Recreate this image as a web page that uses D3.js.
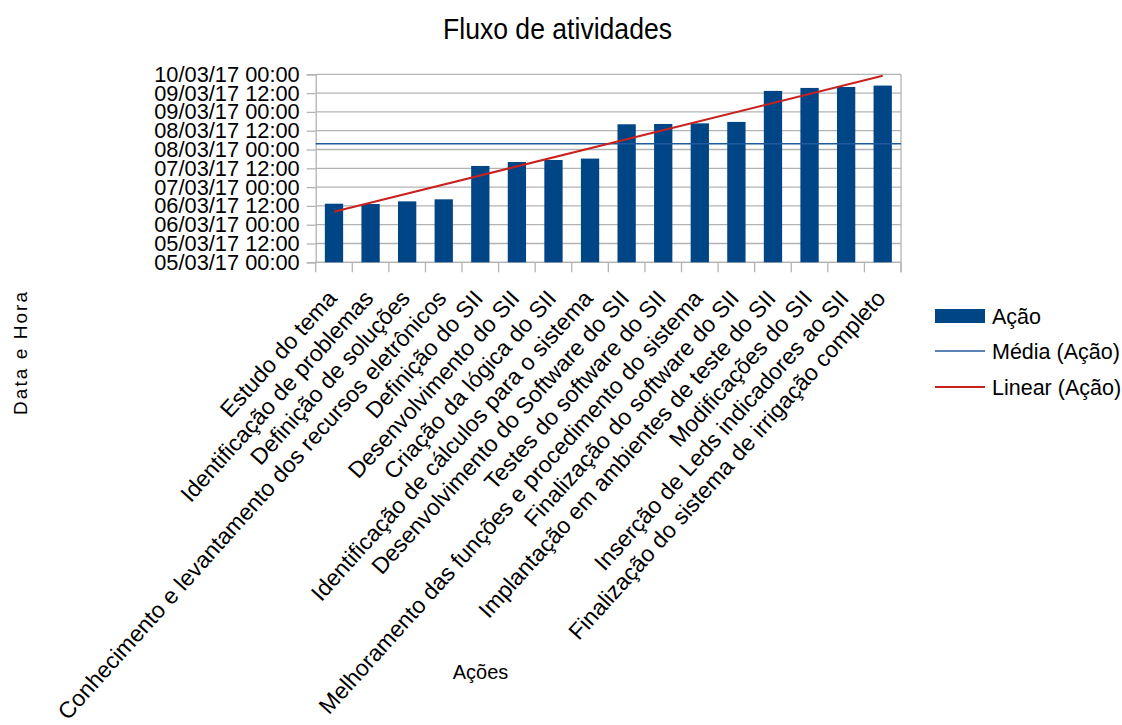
<!DOCTYPE html>
<html>
<head>
<meta charset="utf-8">
<script src="https://cdn.jsdelivr.net/npm/d3@7"></script>
<style>
  html, body { margin: 0; padding: 0; background: #fff; }
  svg { display: block; font-family: "Liberation Sans", Arial, sans-serif; }
</style>
</head>
<body>
<svg id="chart" width="1122" height="725"></svg>
<script>
// Activities (x categories)
const categories = [
  "Estudo do tema",
  "Identificação de problemas",
  "Definição de soluções",
  "Conhecimento e levantamento dos recursos eletrônicos",
  "Definição do SII",
  "Desenvolvimento do SII",
  "Criação da lógica do SII",
  "Identificação de cálculos para o sistema",
  "Desenvolvimento do Software do SII",
  "Testes do software do SII",
  "Melhoramento das funções e procedimento do sistema",
  "Finalização do software do SII",
  "Implantação em ambientes de teste do SII",
  "Modificações do SII",
  "Inserção de Leds indicadores ao SII",
  "Finalização do sistema de irrigação completo"
];

// Completion date/time of each activity
const acaoValues = [
  "06/03/17 13:24", "06/03/17 13:12", "06/03/17 14:54", "06/03/17 16:12",
  "07/03/17 13:30", "07/03/17 16:00", "07/03/17 17:18", "07/03/17 18:12",
  "08/03/17 16:06", "08/03/17 16:18", "08/03/17 16:42", "08/03/17 17:36",
  "09/03/17 13:24", "09/03/17 15:18", "09/03/17 15:54", "09/03/17 16:48"
];

// Value axis range and tick labels (every 12 hours)
const yDomain = ["05/03/17 00:00", "10/03/17 00:00"];
const yTickLabels = [
  "05/03/17 00:00", "05/03/17 12:00", "06/03/17 00:00", "06/03/17 12:00",
  "07/03/17 00:00", "07/03/17 12:00", "08/03/17 00:00", "08/03/17 12:00",
  "09/03/17 00:00", "09/03/17 12:00", "10/03/17 00:00"
];

const legendItems = ["Ação", "Média (Ação)", "Linear (Ação)"];

const parse = d3.timeParse("%d/%m/%y %H:%M");
const fmt = d3.timeFormat("%d/%m/%y %H:%M");

const dates = acaoValues.map(parse);
const data = categories.map((c, i) => ({ cat: c, date: dates[i] }));

const svg = d3.select("#chart");
const plot = { left: 315.7, right: 901, top: 74.3, bottom: 262.3 };

const x = d3.scaleBand().domain(categories).range([plot.left, plot.right]).paddingInner(0).paddingOuter(0);
const y = d3.scaleTime().domain(yDomain.map(parse)).range([plot.bottom, plot.top]);

const gridColor = "#b3b3b3";
const barColor = "#004586";
const meanColor = "#1f5a9e";
const trendColor = "#c9211e";

// Horizontal grid lines
const tickDates = yTickLabels.map(parse);
svg.append("g")
  .selectAll("line")
  .data(tickDates)
  .join("line")
  .attr("x1", plot.left).attr("x2", plot.right)
  .attr("y1", d => y(d)).attr("y2", d => y(d))
  .attr("stroke", gridColor).attr("stroke-width", 1.3);

// Y axis
const yAxis = d3.axisLeft(y).tickValues(tickDates).tickFormat(fmt).tickSize(9).tickPadding(7);
const gy = svg.append("g").attr("transform", `translate(${plot.left},0)`).call(yAxis);
gy.select(".domain").attr("stroke", gridColor).attr("stroke-width", 1.3);
gy.selectAll(".tick line").attr("stroke", gridColor).attr("stroke-width", 1.3);
gy.selectAll(".tick text")
  .attr("fill", "#000")
  .style("font-size", "21.8px")
  .style("font-family", "'Liberation Sans', Arial, sans-serif");

// Right wall border
svg.append("line")
  .attr("x1", plot.right).attr("x2", plot.right)
  .attr("y1", plot.top).attr("y2", plot.bottom + 10)
  .attr("stroke", gridColor).attr("stroke-width", 1.3);

// X axis baseline and category boundary ticks
svg.append("line")
  .attr("x1", plot.left).attr("x2", plot.right)
  .attr("y1", plot.bottom).attr("y2", plot.bottom)
  .attr("stroke", gridColor).attr("stroke-width", 1.3);
const boundaries = categories.map(c => x(c)).concat([x(categories[categories.length - 1]) + x.bandwidth()]);
svg.append("g")
  .selectAll("line")
  .data(boundaries)
  .join("line")
  .attr("x1", d => d).attr("x2", d => d)
  .attr("y1", plot.bottom).attr("y2", plot.bottom + 10)
  .attr("stroke", gridColor).attr("stroke-width", 1.3);

// Bars
const bw = x.bandwidth() / 2;
svg.append("g")
  .selectAll("rect")
  .data(data)
  .join("rect")
  .attr("x", d => x(d.cat) + x.bandwidth() / 4)
  .attr("width", bw)
  .attr("y", d => y(d.date))
  .attr("height", d => plot.bottom - y(d.date))
  .attr("fill", barColor);

// Mean line
const meanMs = d3.mean(dates, d => d.getTime());
svg.append("line")
  .attr("x1", plot.left).attr("x2", plot.right)
  .attr("y1", y(new Date(meanMs))).attr("y2", y(new Date(meanMs)))
  .attr("stroke", meanColor).attr("stroke-width", 1.6);

// Linear regression trend line
const xs = dates.map((d, i) => i + 1);
const ys = dates.map(d => d.getTime());
const mx = d3.mean(xs), my = d3.mean(ys);
const slope = d3.sum(xs, (v, i) => (v - mx) * (ys[i] - my)) / d3.sum(xs, v => (v - mx) * (v - mx));
const intercept = my - slope * mx;
const trendPts = [1, categories.length].map(k => ({
  px: x(categories[k - 1]) + x.bandwidth() / 2,
  date: new Date(intercept + slope * k)
}));
svg.append("path")
  .datum(trendPts)
  .attr("d", d3.line().x(d => d.px).y(d => y(d.date)))
  .attr("fill", "none")
  .attr("stroke", trendColor)
  .attr("stroke-width", 2);

// Rotated category labels
svg.append("g")
  .selectAll("text")
  .data(categories)
  .join("text")
  .attr("transform", d => `translate(${x(d) + x.bandwidth() / 2 + 4},${plot.bottom + 37}) rotate(-48)`)
  .attr("text-anchor", "end")
  .attr("fill", "#000")
  .style("font-size", "23px")
  .text(d => d);

// Title
svg.append("text")
  .attr("x", 557.5).attr("y", 39)
  .attr("text-anchor", "middle")
  .attr("fill", "#000")
  .style("font-size", "29px")
  .attr("textLength", 229)
  .attr("lengthAdjust", "spacingAndGlyphs")
  .text("Fluxo de atividades");

// Axis titles
svg.append("text")
  .attr("x", 480.5).attr("y", 679)
  .attr("text-anchor", "middle")
  .attr("fill", "#000")
  .style("font-size", "20px")
  .text("Ações");

svg.append("text")
  .attr("transform", "translate(27,353.5) rotate(-90)")
  .attr("text-anchor", "middle")
  .attr("fill", "#000")
  .style("font-size", "19px")
  .attr("textLength", 123)
  .attr("lengthAdjust", "spacing")
  .text("Data e Hora");

// Legend
const lg = svg.append("g").attr("transform", "translate(935,0)");
const rowY = [316, 351, 387];
lg.append("rect").attr("x", 0).attr("y", rowY[0] - 7).attr("width", 50).attr("height", 14).attr("fill", barColor);
lg.append("line").attr("x1", 0).attr("x2", 50).attr("y1", rowY[1]).attr("y2", rowY[1])
  .attr("stroke", meanColor).attr("stroke-width", 1.6);
lg.append("line").attr("x1", 0).attr("x2", 50).attr("y1", rowY[2]).attr("y2", rowY[2])
  .attr("stroke", trendColor).attr("stroke-width", 2);
lg.selectAll("text.leg")
  .data(legendItems)
  .join("text")
  .attr("class", "leg")
  .attr("x", 57)
  .attr("y", (d, i) => rowY[i] + 8)
  .attr("fill", "#000")
  .style("font-size", "21.5px")
  .text(d => d);
</script>
</body>
</html>
